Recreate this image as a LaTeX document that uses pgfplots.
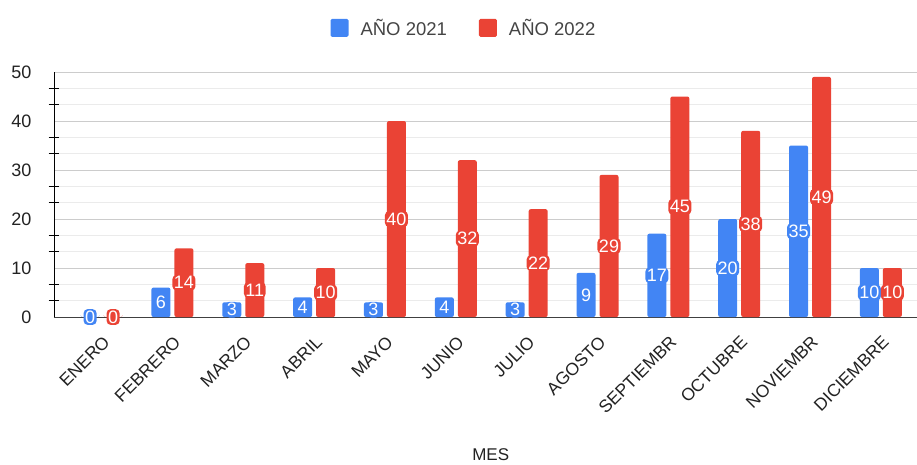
\documentclass[border=0pt]{standalone}
\usepackage{pgfplots}
\pgfplotsset{compat=1.18}
\usepackage{fontspec}
\setmainfont{Liberation Sans}
\definecolor{blueC}{HTML}{4285F4}
\definecolor{redC}{HTML}{EA4335}
\definecolor{txt}{HTML}{222222}
\definecolor{legtxt}{HTML}{444444}
\begin{document}
\begin{tikzpicture}
\begin{axis}[
  at={(54pt,147pt)}, anchor=south west,
  scale only axis, width=863pt, height=245pt,
  xmin=-0.672, xmax=11.51, ymin=0, ymax=50,
  ybar, bar width=19pt,
  axis lines=left, axis line style={-},
  x axis line style={draw=black!75},
  y axis line style={draw=black},
  xtick=data,
  xticklabels={ENERO,FEBRERO,MARZO,ABRIL,MAYO,JUNIO,JULIO,AGOSTO,SEPTIEMBR,OCTUBRE,NOVIEMBR,DICIEMBRE},
  xticklabel style={xshift=5pt, yshift=-22pt, rotate=45, anchor=east, inner sep=0pt,
    font=\fontsize{17.5}{19}\selectfont, text=txt},
  ytick={0,10,20,30,40,50},
  minor y tick num=2,
  ymajorgrids, yminorgrids,
  major grid style={draw=black!20},
  minor grid style={draw=black!8},
  tick align=center,
  major tick length=0pt,
  minor tick length=11pt,
  minor tick style={draw=black, line width=0.8pt},
  yticklabel style={xshift=-19pt, font=\fontsize{18}{20}\selectfont, text=txt},
  /pgf/number format/assume math mode=true,
  xlabel={MES},
  xlabel style={at={(axis description cs:0.506,-0.563)}, anchor=center, font=\fontsize{17}{19}\selectfont, text=txt},
  legend style={at={(axis description cs:0.475,1.18)}, anchor=center, draw=none, fill=none,
    legend columns=2, font=\fontsize{18.5}{20}\selectfont, text=legtxt,
    /tikz/every even column/.append style={column sep=30pt},
    /tikz/every odd column/.append style={column sep=10pt}},
  legend image code/.code={\fill[#1, draw=none, rounded corners=1.5pt] (0pt,-9pt) rectangle (18pt,9pt);},
  visualization depends on={rawy \as \rawy},
  nodes near coords,
  every node near coord/.append style={anchor=center, yshift={-2.45pt*\rawy}, text=white,
    rounded corners=4pt, inner sep=1.5pt, font=\fontsize{18}{20}\selectfont},
]
\addplot[fill=blueC, draw=none, bar shift=-11.5pt, rounded corners=2pt,
  every node near coord/.append style={fill=blueC}]
  coordinates {(0,0) (1,6) (2,3) (3,4) (4,3) (5,4) (6,3) (7,9) (8,17) (9,20) (10,35) (11,10)};
\addplot[fill=redC, draw=none, bar shift=11.5pt, rounded corners=2pt,
  every node near coord/.append style={fill=redC}]
  coordinates {(0,0) (1,14) (2,11) (3,10) (4,40) (5,32) (6,22) (7,29) (8,45) (9,38) (10,49) (11,10)};
\legend{AÑO 2021, AÑO 2022}
\end{axis}
\pgfresetboundingbox
\path[use as bounding box] (0,0) rectangle (917pt,464pt);
\end{tikzpicture}
\end{document}
